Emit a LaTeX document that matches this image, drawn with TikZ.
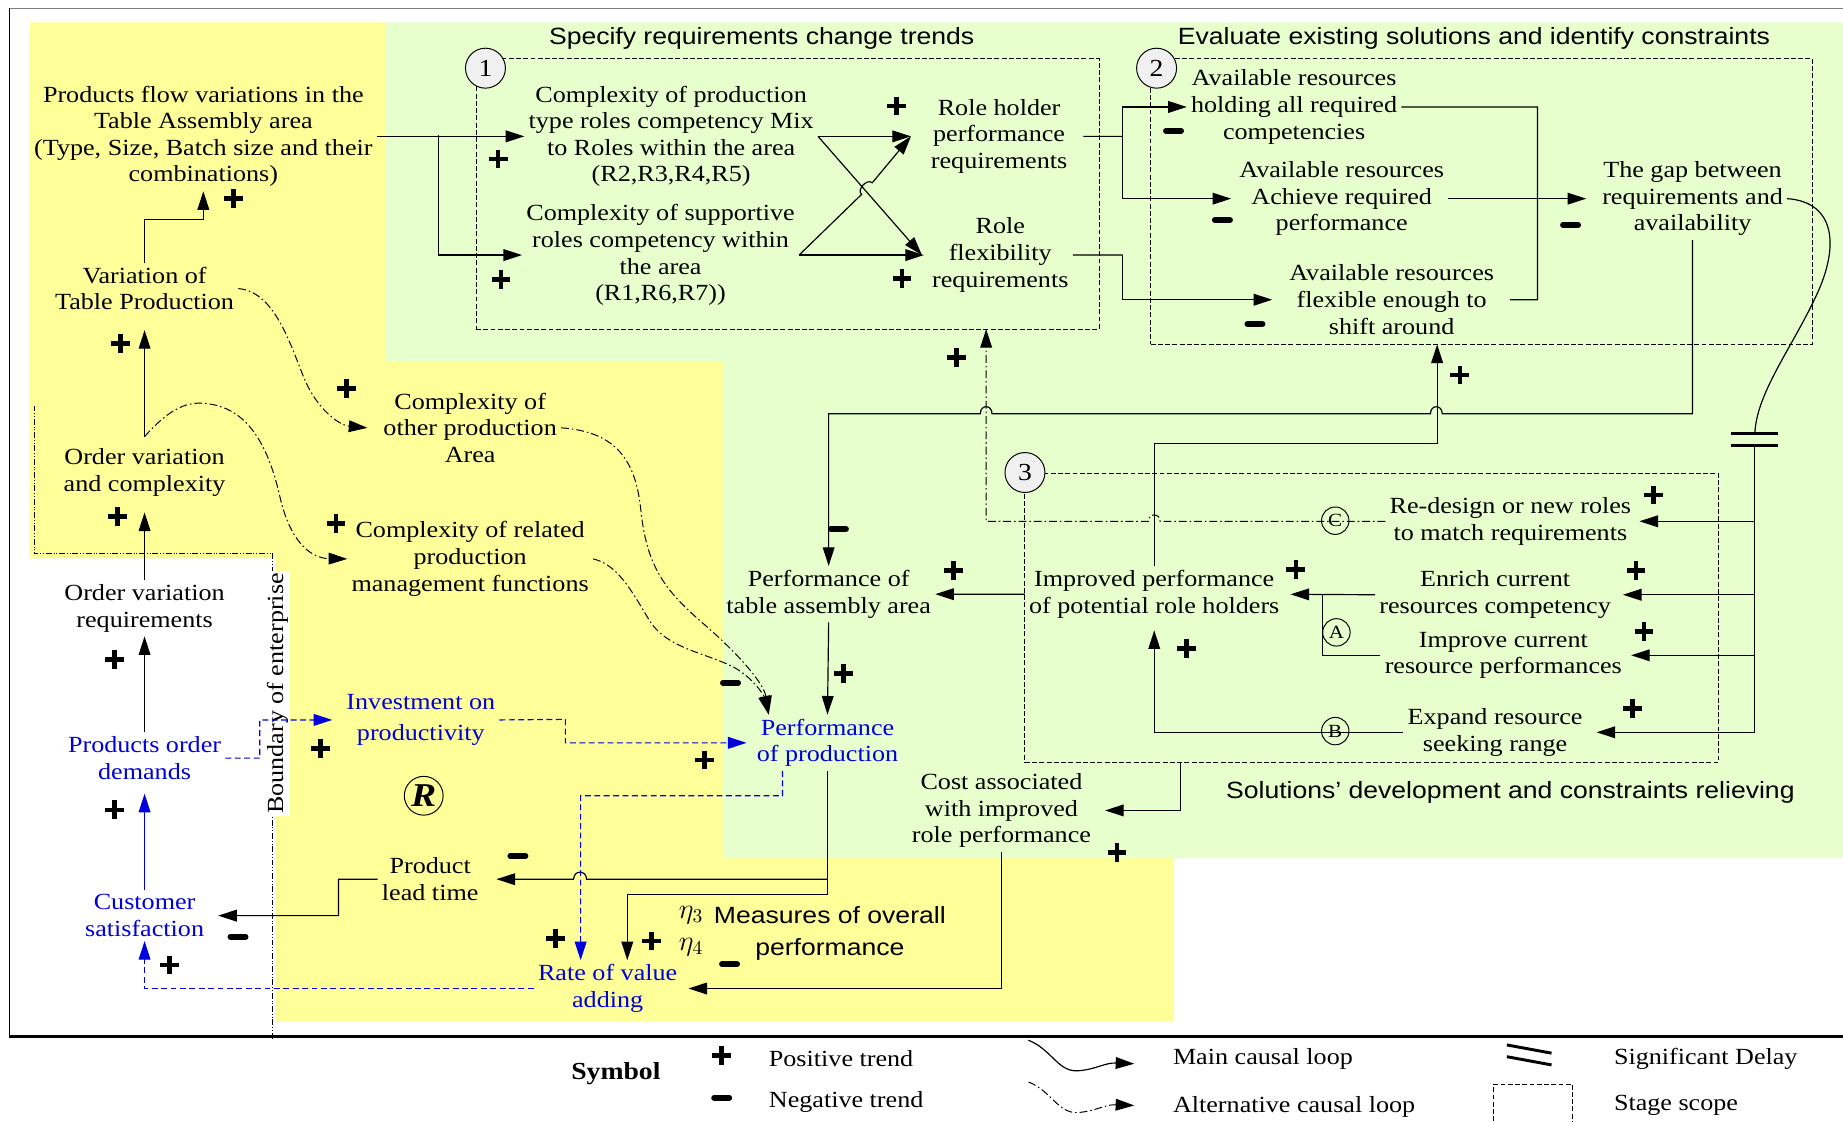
\documentclass[tikz,border=0pt]{standalone}
\usepackage{fontspec}
\setmainfont{Liberation Serif}[FakeStretch=1.13]
\setsansfont{Liberation Sans}[FakeStretch=1.13]
\usetikzlibrary{arrows.meta}

\definecolor{zoneyellow}{RGB}{255,255,153}
\definecolor{zonegreen}{RGB}{230,255,204}
\definecolor{loopblue}{RGB}{0,0,220}
\definecolor{badgegray}{RGB}{240,240,240}

\newcommand\nodefnt{\fontsize{11.8}{13.6}\selectfont}
\newcommand\hdfnt{\sffamily\fontsize{12}{14}\selectfont}

\begin{document}
\begin{tikzpicture}[x=0.6pt, y=-0.6pt,
  lbl/.style={align=center, font=\nodefnt, inner sep=2pt, yshift=-1.2pt},
  blbl/.style={lbl, text=loopblue},
  head/.style={font=\hdfnt, inner sep=1pt, yshift=-1.2pt},
  link/.style={line width=0.6pt},
  tip/.style={-{Triangle[length=9.5pt,width=6pt]}},
  arr/.style={link, tip},
  bline/.style={link, loopblue, tip},
  barr/.style={link, loopblue, dash pattern=on 3pt off 1.8pt, tip},
  altline/.style={line width=0.5pt, dash pattern=on 4pt off 1.5pt on 0.8pt off 1.5pt},
  altarr/.style={altline, tip},
  stagebox/.style={draw, line width=0.5pt, dash pattern=on 2.5pt off 1.2pt, inner sep=0pt, outer sep=0pt},
  badge/.style={circle, draw, fill=badgegray, line width=0.5pt, minimum size=20.4pt, inner sep=0pt, font=\fontsize{12.5}{12.5}\selectfont},
  tag/.style={circle, draw, line width=0.5pt, minimum size=14pt, inner sep=0pt, font=\fontsize{9.5}{9.5}\selectfont},
  plusmark/.pic={\draw[line width=2.4pt] (-8,0) -- (8,0) (0,-8) -- (0,8);},
  minusmark/.pic={\draw[line width=2.9pt, line cap=round] (-6.5,0) -- (6.5,0);}
]
\useasboundingbox (0,0) rectangle (1568,954);

% coloured zones
\fill[zoneyellow] (25,19) -- (328,19) -- (328,307) -- (615,307) -- (615,730) -- (999,730)
  -- (999,869) -- (235,869) -- (235,475) -- (25,475) -- cycle;
\fill[zonegreen] (328,19) -- (1568,19) -- (1568,730) -- (615,730) -- (615,307) -- (328,307) -- cycle;

% frame
\draw[gray, line width=0.6pt] (8,7) -- (1568,7);
\draw[line width=0.8pt] (8,7) -- (8,882);
\draw[line width=1.3pt] (8,882) -- (1568,882);

% enterprise boundary
\draw[line width=0.5pt, dash pattern=on 3pt off 1pt on 0.4pt off 1pt on 0.4pt off 1pt]
  (29,345) -- (29,471) -- (232,471) -- (232,885);
\node[lbl, rotate=90, fill=white, inner sep=1pt] (bnd) at (236,588) {Boundary of enterprise};

% stage scopes
\node[stagebox, minimum width=318pt, minimum height=138pt] (box1) at (670,165) {};
\node[stagebox, minimum width=337.8pt, minimum height=145.8pt] (box2) at (1260.5,171.5) {};
\node[stagebox, minimum width=354pt, minimum height=147.6pt] (box3) at (1167,526) {};

% stage titles
\node[head] (h1) at (648,31) {Specify requirements change trends};
\node[head] (h2) at (1254,31) {Evaluate existing solutions and identify constraints};
\node[head] (h3) at (1285,672) {Solutions’ development and constraints relieving};

% variables
\node[lbl] (pflow) at (173,114) {Products flow variations in the\\Table Assembly area\\(Type, Size, Batch size and their\\combinations)};
\node[lbl] (vtp) at (123,243.5) {Variation of\\Table Production};
\node[lbl] (ovc) at (123,400) {Order variation\\and complexity};
\node[lbl] (ovr) at (123,515.5) {Order variation\\requirements};
\node[blbl] (pod) at (123,643) {Products order\\demands};
\node[blbl] (cs) at (123,777) {Customer\\satisfaction};
\node[lbl] (cop) at (400,362) {Complexity of\\other production\\Area};
\node[lbl] (crp) at (400,473.5) {Complexity of related\\production\\management functions};
\node[blbl, font=\fontsize{11.8}{16.2}\selectfont] (inv) at (358,610.5) {Investment on\\productivity};
\node[lbl] (plt) at (366,746) {Product\\lead time};
\node[blbl] (rva) at (517,839) {Rate of value\\adding};
\node[blbl] (pop) at (704,630) {Performance\\of production};
\node[lbl] (pta) at (705,503.5) {Performance of\\table assembly area};
\node[lbl] (cost) at (852,687.5) {Cost associated\\with improved\\role performance};
\node[font=\fontsize{14.5}{16}\selectfont, inner sep=1pt] (eta3) at (588,778.5) {$\eta_3$};
\node[font=\fontsize{14.5}{16}\selectfont, inner sep=1pt] (eta4) at (588,806) {$\eta_4$};
\node[align=center, font=\sffamily\fontsize{12}{16.2}\selectfont, inner sep=1pt, yshift=-1.2pt] (meas) at (706,792) {Measures of overall\\performance};

\node[lbl] (cpr) at (571,114) {Complexity of production\\type roles competency Mix\\to Roles within the area\\(R2,R3,R4,R5)};
\node[lbl] (csu) at (562,215) {Complexity of supportive\\roles competency within\\the area\\(R1,R6,R7))};
\node[lbl] (rhp) at (850,114) {Role holder\\performance\\requirements};
\node[lbl] (rfr) at (851,215) {Role\\flexibility\\requirements};

\node[lbl] (arh) at (1101,89) {Available resources\\holding all required\\competencies};
\node[lbl] (ara) at (1141.5,167) {Available resources\\Achieve required\\performance};
\node[lbl] (arf) at (1184,253) {Available resources\\flexible enough to\\shift around};
\node[lbl] (gap) at (1440,167) {The gap between\\requirements and\\availability};

\node[lbl] (red) at (1285,441.5) {Re-design or new roles\\to match requirements};
\node[lbl] (ipr) at (982,503.6) {Improved performance\\of potential role holders};
\node[lbl] (enr) at (1272,504) {Enrich current\\resources competency};
\node[lbl] (imp) at (1279,555.5) {Improve current\\resource performances};
\node[lbl] (exp) at (1272,621) {Expand resource\\seeking range};

% ---- stage 1 links
\coordinate (j1) at (373,115);
\draw[arr] (pflow.east) -- (cpr.west);
\draw[arr] (j1) |- (csu.west);
\draw[arr] (cpr.east) -- ([xshift=-8pt]rhp.west);
\draw[arr] (cpr.east) -- ([xshift=-3pt]rfr.west);
\draw[arr] (csu.east) -- ([xshift=-2pt]rfr.west);
\draw[arr] (csu.east) -- (733,165.4) .. controls (728.6,161.4) and (737.7,151.5) .. (742.1,155.5) -- ([xshift=-8pt]rhp.west);

% ---- stage 2 links
\coordinate (j3) at (955,116);
\coordinate (j4) at (955,217);
\coordinate (j2) at (1308,255);
\draw[link] ([xshift=6pt]rhp.east) -- (j3);
\draw[arr] (j3) |- (arh.west);
\draw[arr] (j3) |- ([xshift=-2pt]ara.west);
\draw[link] (rfr.east) -- (j4);
\draw[arr] (j4) |- ([xshift=-6.5pt]arf.west);
\draw[arr] (ara.east) -- ([xshift=-6pt]gap.west);
\draw[link] (arh.east) -| (j2) -- ([xshift=6pt]arf.east);

% ---- gap back to the table assembly area
\draw[arr] (gap.south) |- (1227,352) .. controls (1227,344) and (1217,344) .. (1217,352)
  -- (844,352) .. controls (844,344) and (834,344) .. (834,352) -| (pta.north);

% ---- delayed solutions bus
\coordinate (bus) at (1493,379);
\draw[link] (gap.east) .. controls (1562,172) and (1565,210) .. (1545,252) .. controls (1525,295) and (1494,335) .. (1493,369);
\draw[line width=1.6pt] (1473,369) -- (1513,369) (1473,379) -- (1513,379);
\draw[link] (bus) -- (1493,623);
\draw[arr] (bus |- red.east) -- ([xshift=2pt]red.east);
\draw[arr] (bus |- enr.east) -- ([xshift=4pt]enr.east);
\draw[arr] (bus |- imp.east) -- ([xshift=2.5pt]imp.east);
\draw[arr] (bus |- exp.east) -- ([xshift=5pt]exp.east);

% ---- stage 3 links
\coordinate (jA) at (1125,506);
\draw[arr] (enr.west) -- ([xshift=3.5pt]ipr.east);
\draw[link] (imp.west) -| (jA);
\draw[arr] (exp.west) -| ([yshift=-4pt]ipr.south);
\draw[arr] (ipr.north) -- (982,377) -| ([xshift=-22.7pt]box2.south);
\draw[altarr] (red.west) -- (987,443.5) .. controls (987,436) and (977,436) .. (977,443.5) -| ([xshift=101.4pt]box1.south);
\draw[arr] (ipr.west) -- (pta.east);
\draw[arr] ([xshift=-97.6pt]box3.south) |- ([xshift=5pt]cost.east);

% ---- performance loop
\draw[arr] (pta.south) -- (pop.north);
\coordinate (k3) at (704,748);
\draw[arr] (pop.south) -- (704,761) -| ([xshift=10pt]rva.north);
\draw[arr] (k3) -- (499,748) .. controls (499,740) and (488,740) .. (488,748) -- ([xshift=7pt]plt.east);
\draw[arr] (cost.south) |- ([xshift=3.5pt]rva.east);
\coordinate (k4) at (494,677);
\draw[barr] ([xshift=-23pt]pop.south) |- (k4) -- ([xshift=-13.8pt]rva.north);
\draw[barr] (inv.east) -- (481,612) |- ([xshift=-3pt]pop.west);
\draw[barr] (pod.east) -- (221,645) |- ([xshift=-5pt]inv.west);
\draw[altarr] (cop.east) .. controls (520,367) and (540,387) .. (545,432) .. controls (550,482) and (565,502) .. (600,532)
  .. controls (630,558) and (650,582) .. ([xshift=-30pt]pop.north);
\draw[altarr] (crp.east) .. controls (525,480) and (537,502) .. (552,527) .. controls (567,552) and (600,555) .. (625,568)
  .. controls (642,578) and (650,592) .. ([xshift=-30pt]pop.north);

% ---- customer side
\coordinate (k1) at (123,187);
\coordinate (k2) at (288,748);
\draw[arr] (vtp.north) -- (k1) -| (pflow.south);
\draw[arr] ([yshift=4pt]ovc.north) -- ([yshift=-8pt]vtp.south);
\draw[altarr] ([yshift=4pt]ovc.north) .. controls (145,347) and (160,340) .. (180,344) .. controls (215,350) and (230,387) .. (238,422)
  .. controls (247,462) and (265,475) .. (crp.west);
\draw[altarr] (vtp.east) .. controls (232,248) and (245,287) .. (258,320) .. controls (270,350) and (290,362) .. ([xshift=-6pt]cop.west);
\draw[arr] (ovr.north) -- ([yshift=-6pt]ovc.south);
\draw[arr] (pod.north) -- (ovr.south);
\draw[bline] (cs.north) -- ([yshift=-5pt]pod.south);
\draw[barr] (rva.west) -| (cs.south);
\draw[arr] (plt.west) -- (k2) |- ([xshift=5pt]cs.east);

% badges
\node[badge] (b1) at (413,58) {1};
\node[badge] (b2) at (984,58) {2};
\node[badge] (b3) at (872,402) {3};
\node[tag] (tC) at (1136,443) {C};
\node[tag] (tA) at (1137,538) {A};
\node[tag] (tB) at (1136,622) {B};
\node[circle, draw, line width=0.5pt, minimum size=19.8pt, inner sep=0pt, font=\bfseries\itshape\fontsize{17}{17}\selectfont] (rloop) at (360.5,677) {R};

% polarity marks
\foreach \p in {(198.5,168.7),(102.6,292),(99.9,439.6),(97.6,561),(97.6,689),(144.3,821),
  (295,330.4),(285.9,445.2),(272.5,636.7),(599.6,646.6),(717.4,572.8),(811.5,485.5),
  (1102.5,484.4),(1009.3,551.6),(1407,421.2),(1391.9,485.5),(1398.7,537.4),(1388.9,602.6),
  (950.3,725.4),(472.9,798.3),(554.5,800.6),(423.8,135.3),(426.2,237.6),(762.5,90.2),
  (767.4,236.8),(813.8,304),(1242,319)}
  \pic at \p {plusmark};
\foreach \p in {(202.5,797),(621.5,580.8),(713.3,450),(440.6,728.3),(620.7,820.4),
  (998.4,111.2),(1040,187.2),(1067.7,275.7),(1336.2,191.4)}
  \pic at \p {minusmark};

% legend
\node[font=\bfseries\fontsize{12.5}{14}\selectfont, inner sep=1pt] (sym) at (524,913) {Symbol};
\pic at (614,898) {plusmark};
\pic at (614,934) {minusmark};
\node[lbl, anchor=west] (lpos) at (650.5,898.6) {Positive trend};
\node[lbl, anchor=west] (lneg) at (650.5,935.6) {Negative trend};
\draw[arr] (875,885) .. controls (895,893) and (900,912) .. (917,911) .. controls (932,910) and (940,904) .. (965,905);
\draw[altarr] (875,920.5) .. controls (895,928.5) and (900,947.5) .. (917,946.5) .. controls (932,945.5) and (940,939.5) .. (965,940.5);
\node[lbl, anchor=west] (lmain) at (994.3,899) {Main causal loop};
\node[lbl, anchor=west] (lalt) at (994.3,940) {Alternative causal loop};
\draw[line width=1.5pt] (1282,889) -- (1320,896) (1282,899) -- (1320,906);
\node[lbl, anchor=west] (ldel) at (1369.5,898.6) {Significant Delay};
\draw[line width=0.5pt, dash pattern=on 2.5pt off 1.2pt] (1271,960) -- (1271,922.5) -- (1338,922.5) -- (1338,960);
\node[lbl, anchor=west] (lstg) at (1369.5,938) {Stage scope};
\end{tikzpicture}
\end{document}
